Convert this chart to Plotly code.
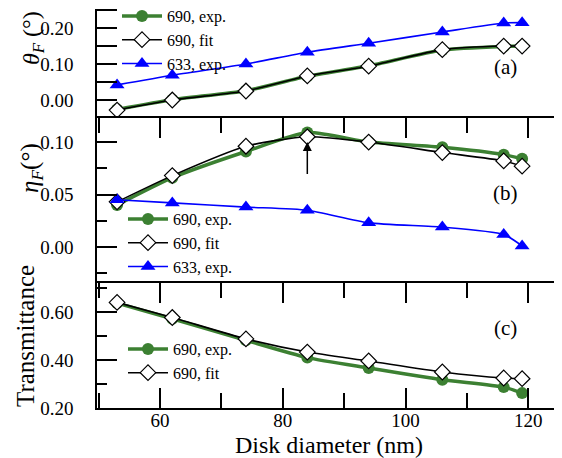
import plotly.graph_objects as go

diam = [53, 62, 74, 84, 94, 106, 116, 119]

theta_690_exp = [-0.026, 0.001, 0.026, 0.066, 0.095, 0.139, 0.149, 0.150]
theta_690_fit = [-0.028, 0.000, 0.025, 0.067, 0.094, 0.140, 0.150, 0.150]
theta_633_exp = [0.042, 0.069, 0.100, 0.133, 0.158, 0.189, 0.214, 0.215]

eta_690_exp = [0.040, 0.066, 0.091, 0.109, 0.100, 0.095, 0.088, 0.084]
eta_690_fit = [0.043, 0.068, 0.096, 0.105, 0.100, 0.090, 0.082, 0.077]
eta_633_exp = [0.045, 0.042, 0.038, 0.035, 0.023, 0.019, 0.012, 0.001]

trans_690_exp = [0.637, 0.572, 0.482, 0.410, 0.367, 0.318, 0.287, 0.262]
trans_690_fit = [0.640, 0.577, 0.488, 0.433, 0.396, 0.350, 0.325, 0.322]

GREEN = "rgb(60,128,50)"
BLUE = "rgb(0,0,255)"
FONT = "Liberation Serif"

# page is offset by the browser's 8px body margin; figure sized to fit the window
OFF = 8
PL, PB = 97, 408          # page x of plot left, page y of plot bottom
PW, PH = 465, PB - OFF    # plot area size


def px(xp):
    return (xp - PL) / PW


def py(yp):
    return 1 - (yp - OFF) / PH


fig = go.Figure()


def add_set(xa, ya, leg, exp690, fit690, exp633=None):
    fig.add_trace(go.Scatter(x=diam, y=exp690, name="690, exp.", mode="lines+markers",
                             line=dict(color=GREEN, width=3.5, shape="spline", smoothing=0.6),
                             marker=dict(symbol="circle", size=12, color=GREEN),
                             xaxis=xa, yaxis=ya, legend=leg))
    fig.add_trace(go.Scatter(x=diam, y=fit690, name="690, fit", mode="lines+markers",
                             line=dict(color="black", width=1.6, shape="spline", smoothing=0.6),
                             marker=dict(symbol="diamond", size=12, color="white",
                                         line=dict(color="black", width=1.2)),
                             xaxis=xa, yaxis=ya, legend=leg))
    if exp633 is not None:
        fig.add_trace(go.Scatter(x=diam, y=exp633, name="633, exp.", mode="lines+markers",
                                 line=dict(color=BLUE, width=1.6, shape="spline", smoothing=0.6),
                                 marker=dict(symbol="triangle-up", size=13, color=BLUE),
                                 xaxis=xa, yaxis=ya, legend=leg))


add_set("x", "y", "legend", theta_690_exp, theta_690_fit, theta_633_exp)
add_set("x2", "y2", "legend2", eta_690_exp, eta_690_fit, eta_633_exp)
add_set("x3", "y3", "legend3", trans_690_exp, trans_690_fit)

XR = [49.73, 125.5]
tickfont = dict(family=FONT, size=19, color="black")

xcommon = dict(range=XR, dtick=20, tick0=0, showgrid=False, zeroline=False,
               linecolor="black", linewidth=1.5, ticks="inside", tickcolor="black",
               tickwidth=1.5, ticklen=20,
               minor=dict(dtick=10, tick0=0, ticks="inside", ticklen=15, tickcolor="black", tickwidth=1.5))

ycommon = dict(showgrid=False, zeroline=False, linecolor="black", linewidth=1.5,
               ticks="inside", tickcolor="black", tickwidth=1.5, ticklen=20,
               tickfont=tickfont, tickformat=".2f", ticklabelstandoff=18, showline=True)

dom_a = [py(118), py(9)]
dom_b = [py(283), py(118)]
dom_c = [0.0, py(283)]

fig.update_layout(
    width=562 - OFF, height=458 - OFF,
    margin=dict(l=PL - OFF, r=0, t=0, b=458 - PB, autoexpand=False),
    paper_bgcolor="white", plot_bgcolor="white",
    font=dict(family=FONT, color="black"),
    xaxis=dict(domain=[0, 1], anchor="y", range=XR, showline=False, showticklabels=False,
               showgrid=False, zeroline=False, ticks=""),
    xaxis2=dict(xcommon, domain=[0, 1], anchor="y2", side="top", showline=True,
                showticklabels=False, matches="x"),
    xaxis3=dict(xcommon, domain=[0, 1], anchor="y3", side="bottom", showline=True,
                mirror="ticks", showticklabels=True, tickfont=tickfont, matches="x",
                ticklabelstandoff=-6),
    yaxis=dict(ycommon, domain=dom_a, anchor="x", range=[-0.05, 0.253], dtick=0.1, tick0=0,
               minor=dict(dtick=0.05, tick0=0, ticks="inside", ticklen=20, tickcolor="black", tickwidth=1.5)),
    yaxis2=dict(ycommon, domain=dom_b, anchor="x2", range=[-0.0343, 0.1229], dtick=0.05, tick0=0,
                minor=dict(dtick=0.025, tick0=0, ticks="inside", ticklen=10, tickcolor="black", tickwidth=1.5)),
    yaxis3=dict(ycommon, domain=dom_c, anchor="x3", range=[0.2, 0.7208], dtick=0.2, tick0=0,
                minor=dict(dtick=0.1, tick0=0, ticks="inside", ticklen=10, tickcolor="black", tickwidth=1.5)),
)

legcommon = dict(bgcolor="rgba(0,0,0,0)", font=dict(family=FONT, size=16, color="black"),
                 itemwidth=40, xanchor="left", yanchor="top", tracegroupgap=0,
                 borderwidth=0, orientation="v")
fig.update_layout(
    legend=dict(legcommon, x=px(117), y=py(-1)),
    legend2=dict(legcommon, x=px(123), y=py(202)),
    legend3=dict(legcommon, x=px(123), y=py(332)),
)

ann_font = dict(family=FONT, size=25, color="black")
fig.add_annotation(text="Disk diameter (nm)", xref="paper", yref="paper", x=px(329), y=py(445),
                   showarrow=False, font=dict(family=FONT, size=24, color="black"),
                   xanchor="center", yanchor="middle")
fig.add_annotation(text="<i>θ<sub>F</sub></i> (°)", xref="paper", yref="paper",
                   x=px(33), y=py(9), textangle=-90, showarrow=False,
                   font=dict(family=FONT, size=24, color="black"), xanchor="center", yanchor="top")
fig.add_annotation(text="<i>η<sub>F</sub></i>(°)", xref="paper", yref="paper",
                   x=px(31), y=py(168), textangle=-90, showarrow=False,
                   font=ann_font, xanchor="center", yanchor="middle")
fig.add_annotation(text="Transmittance", xref="paper", yref="paper",
                   x=px(25), y=py(336), textangle=-90, showarrow=False,
                   font=ann_font, xanchor="center", yanchor="middle")

lab_font = dict(family=FONT, size=21, color="black")
fig.add_annotation(text="(a)", x=116.3, y=0.092, xref="x", yref="y", showarrow=False, font=lab_font)
fig.add_annotation(text="(b)", x=116.3, y=0.051, xref="x2", yref="y2", showarrow=False, font=lab_font)
fig.add_annotation(text="(c)", x=116.3, y=0.533, xref="x3", yref="y3", showarrow=False, font=lab_font)

fig.add_annotation(x=84, y=0.100, ax=84, ay=0.068, xref="x2", yref="y2", axref="x2", ayref="y2",
                   showarrow=True, arrowhead=2, arrowsize=1.2, arrowwidth=1.5, arrowcolor="black", text="")

fig.write_html("out.html")
